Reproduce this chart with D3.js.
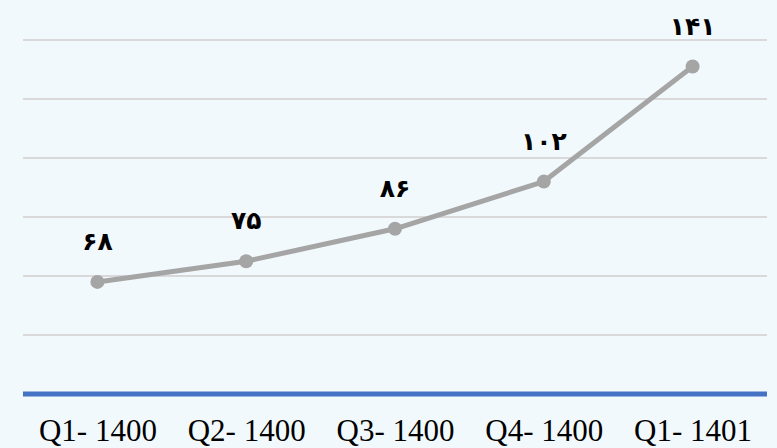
<!DOCTYPE html>
<html>
<head>
<meta charset="utf-8">
<script src="https://cdn.jsdelivr.net/npm/d3@7"></script>
<style>
html,body{margin:0;padding:0;background:#f2f9fc;}
svg{display:block;}
</style>
</head>
<body>
<svg id="chart" width="777" height="448"></svg>
<script>
const categories = ["Q1- 1400", "Q2- 1400", "Q3- 1400", "Q4- 1400", "Q1- 1401"];
const values = [68, 75, 86, 102, 141];
const valueLabels = ["۶۸", "۷۵", "۸۶", "۱۰۲", "۱۴۱"];
const gridTicks = [50, 70, 90, 110, 130, 150];

(function () {
const W = 777, H = 448;
const mLeft = 23, mRight = 767, mTop = 40, mBottom = 394;
const svg = d3.select("#chart");
svg.append("rect").attr("width", W).attr("height", H).attr("fill", "#f2f9fc");

const x = d3.scalePoint().domain(categories).range([mLeft, mRight]).padding(0.5);
const y = d3.scaleLinear().domain([30, 150]).range([mBottom, mTop]);

svg.append("g").selectAll("line").data(gridTicks).join("line")
  .attr("x1", mLeft).attr("x2", mRight)
  .attr("y1", d => y(d)).attr("y2", d => y(d))
  .attr("stroke", "#d9d9d9").attr("stroke-width", 2);

svg.append("line").attr("x1", mLeft).attr("x2", mRight)
  .attr("y1", mBottom).attr("y2", mBottom)
  .attr("stroke", "#4472c4").attr("stroke-width", 5);

const xAxis = d3.axisBottom(x).tickSize(0).tickPadding(0);
const gx = svg.append("g").attr("transform", `translate(0,${mBottom})`).call(xAxis);
gx.select(".domain").remove();
gx.attr("font-family", null).attr("font-size", null);
gx.selectAll("text")
  .attr("y", 47).attr("dy", null)
  .style("font-family", "'Liberation Serif', 'Times New Roman', 'DejaVu Serif', serif")
  .style("font-size", "31px").attr("fill", "#000");

const data = categories.map((c, i) => ({c, v: values[i], l: valueLabels[i]}));
svg.append("path").datum(data)
  .attr("fill", "none").attr("stroke", "#a5a5a5").attr("stroke-width", 5)
  .attr("stroke-linejoin", "round")
  .attr("d", d3.line().x(d => x(d.c)).y(d => y(d.v)));

svg.append("g").selectAll("circle").data(data).join("circle")
  .attr("cx", d => x(d.c)).attr("cy", d => y(d.v)).attr("r", 7)
  .attr("fill", "#a5a5a5");

svg.append("g").selectAll("text").data(data).join("text")
  .attr("x", d => x(d.c)).attr("y", d => y(d.v) - 32)
  .attr("text-anchor", "middle")
  .style("font-family", "'DejaVu Sans', sans-serif")
  .style("font-weight", "bold").style("font-size", "25px").attr("fill", "#000")
  .text(d => d.l);
})();
</script>
</body>
</html>
